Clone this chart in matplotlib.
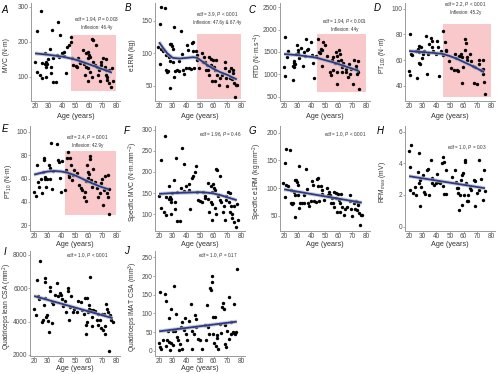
import matplotlib
matplotlib.use("Agg")
import matplotlib.pyplot as plt
import numpy as np

W, H = 500, 374

# ---------------- data ----------------
a_age = [24.3,21.2,36.8,32.5,38.5,20,21.2,23.6,25.3,28.4,25.3,27.2,27.2,28,28.9,28.4,30.8,32,31.5,29.6,33.2,35.6,33.2,36.3,38,39.9,41.6,42.8,41.6,44,45.2,46.4,46.9,47.6,48.3,50,51.2,51.9,53.6,53.6,56,56.7,57.9,58.9,58.9,58.9,59.6,60.3,60.8,60.8,62,62.7,62,63.2,64.4,65,65.6,66.8,67.5,68,68.7,69.2,70.4,71.6,72.3,72.8,73.3,74.7,75.2,76.4,77.6,77.2,73.5,72.3,57.7,55.5]
a_val = [286,229,256,234,220,142,114,105,97,100,140,166,135,141,136,128,180,128,111,149,83,83,152,161,155,166,171,111,158,185,190,199,213,152,133,130,128,152,142,138,136,105,166,152,124,86,171,161,157,114,208,204,100,142,133,190,128,105,119,86,142,133,152,128,105,119,91,81,119,69,86,124,100,150,128,175]
a_fit_age = [20,30,40,46,50,55,60,65,70,77]
a_fit_val = [166,162,157,152,148,142,135,128,121,111]

b_age = [21.7,24.1,21,30.8,36,19.5,21.7,21,22.9,25.3,25.3,25.8,26.5,27,27.7,28.9,29.6,30.1,28.2,27.7,30.1,30.8,31.3,33,34.4,34.9,36.8,37.2,38.5,39.7,40.4,40.9,42,43.3,44,45,45,45.7,46.9,47.6,48,49.3,51.2,52.2,52.9,53.6,54.6,55.3,56,56.5,56.9,57.7,58.4,58.9,59.4,60.1,60.8,60.8,61.8,62.5,63.7,64.9,66.1,68,68.5,69,69.7,70.9,72.1,72.8,73.3,74,74.5,75,76.2,77.1,75.7]
b_val = [170.5,168.6,145,140,134,109.5,106,84,104,97,74,72,73,94,114,114,111,106,88,47.5,87,64,73,74,73,88,99,74,68,77,113,105,77,76,116,118,104,77,104,97,89,78,101,87,94,87,74,82,74,94,67,82,91,57,89,79,74,57,89,67,51,62,67,77,87,62,50,73,62,77,60,70,74,55,51.5,51.5,33]
b_fit_age = [20,23,26,30,35,40,45,48,52,56,60,65,70,74,77]
b_fit_val = [117,108,100,93,92,93,94,93,87,81,76,71,67,63,60]

c_age = [21,20,21,22.4,22.9,26.4,26.4,27.1,27.6,27.6,28.1,28.8,29.5,30,30.5,31.2,32.4,33.6,34.3,35.5,35.9,37.1,37.6,39.5,40.7,41.4,41.9,43.1,44.8,45.5,46.2,47.1,47.8,47.8,48.6,50.2,51.4,53.3,54.3,55,55.7,56.2,57.4,58.1,58.6,58.6,59,59.7,60.5,60.9,61.4,62.1,62.8,63.3,65.2,65.7,66.9,67.6,68.1,69.3,70.5,71.6,72.4,72.8,74,74,75.2,73.3]
c_val = [1833,1173,972,1381,1520,868,1194,1298,1263,1159,1229,1451,1645,1541,1472,1368,1590,1194,1506,1402,1784,1541,1576,1715,1423,1263,930,1402,1798,1506,1472,1576,1541,1194,1715,1645,1402,1055,986,1333,1381,1090,1263,1506,1402,798,1055,1298,1541,1451,1333,1173,1055,1263,1125,1055,951,1229,1020,1125,778,1333,1194,1125,1298,1055,673,1000]
c_fit_age = [20,30,40,44,50,55,60,65,70,75]
c_fit_val = [1455,1430,1390,1370,1320,1278,1230,1180,1130,1075]

d_age = [21,20,21,21.7,22.4,25.2,26,26.4,27.1,27.6,27.6,28.3,28.8,29.5,30,30.5,31.2,32.4,33.1,33.6,34.8,36,36.7,37.1,37.6,39.5,40.7,41.4,41.9,43.1,44.8,44.8,46.2,46.7,47.1,48.9,50.9,52.6,53.3,54.3,55,55.7,56.7,57.4,58.1,58.6,59,59.7,61,61.4,61,62.1,62.8,64.5,65.7,66.9,67.6,68.6,70,71.6,72.8,74,74,75.2,75.7,71.6,74]
d_val = [80.3,51.7,48,65,64,66.8,46,68.3,71,66,57.8,56.6,70,61.5,66,65,66.8,78.5,48.8,65,72.5,77.3,74.9,70,66.8,65,74.9,70,47.6,66.8,82.7,63.9,73.7,67.6,66.8,59,54,52.2,65,61.5,52.2,51.7,63.4,63.4,65,42.4,62.7,54.6,76.6,73.2,67.6,62.7,60.3,64.4,59,55.4,42.4,54.2,41.5,60.3,52.2,60.3,48.8,43.2,33.4,56.6,53]
d_fit_age = [20,30,40,45,50,55,60,65,70,75]
d_fit_val = [67,66.2,65.3,64.7,63,61,58.5,56,53.3,50.5]

e_age = [20,21.2,21.9,22.8,23.5,25.2,25.9,26.6,27,27.5,27.8,28.2,28.7,29.4,30.6,31.3,31.8,32.2,32.9,34.1,36.5,37.6,38.3,38.8,40,40.7,42.3,43.5,44.2,44.7,45.4,45.9,46.3,47,47.7,48.7,49.4,51.7,52.9,54.1,55.3,56.4,57.1,58.1,58.1,58.8,59.5,59.5,60.4,61.1,61.1,61.8,62.3,63.5,64.6,65.8,67,68.2,69.4,69.8,70.5,71.2,72.2,73.6,74.5,75.2,75.2,74]
e_val = [48.2,45,72,57,53,60,48,65.6,77.5,75.5,59.4,61.4,53,59.4,71.3,69,60,90.4,51,66.2,89.6,75.5,74,60.6,48.2,74.6,50,67,77.5,82.5,63.4,61.4,77.5,71.3,58.6,63.4,67,65,54.4,51.5,50,44.5,48.7,57.7,40.3,71.3,65.6,60.6,64.2,79.2,76.3,58.6,53,68.5,56.6,51.5,44.5,47.3,55.8,60,37.5,50.1,62.3,47.3,44.5,51,29.6,63.4]
e_fit_age = [20,25,30,35,40,45,50,55,60,65,70,75]
e_fit_val = [63.3,64.8,66,66.4,66,64.8,62.7,60,57.2,54.7,52.5,50.6]

f_age = list(a_age)
f_val = list(a_val)
f_fit_age = [20,30,40,50,55,60,65,70,75,77]
f_fit_val = [148,150,151,152,151,149,145,140,135,133]

g_age = list(b_age)
g_val = list(b_val)
g_fit_age = [20,77]
g_fit_val = [98,74]

h_age = [20,21.7,21,21,22.9,24.1,25.3,26.4,27.1,27.6,28.1,28.1,28.8,30,30.7,31.9,32.9,33.6,34.3,36,36.7,37.1,38.3,39.5,40.2,41.4,42.4,43.8,44.8,45.5,45.5,44.8,46.7,47.1,51.4,53.3,54.3,55,55.7,56.7,57.4,58.1,58.6,59,59.7,60.5,61,61,61.4,62.1,63.3,64.5,65.7,67.6,68.6,68.6,70,71,71.6,72.4,74,75.2,75.7,56.2,63.3]
h_val = [4.8,5.17,3.76,2.31,2.15,2.52,2.0,3.45,4.65,2.73,2.93,1.32,2.52,3.24,2.21,2.07,3.6,3.66,2.0,4.21,2.73,3.04,2.62,2.77,3.3,2.83,2.77,4.0,4.38,4.07,2.07,2.56,3.6,2.07,3.14,3.55,2.83,2.42,2.15,1.07,2.0,2.93,1.38,3.24,3.39,2.0,4.21,4.07,2.73,1.59,1.59,2.42,2.31,2.93,2.89,1.32,2.15,2.31,4.21,2.98,1.65,3.6,2.27,2.42,2.0]
h_fit_age = [20,75.7]
h_fit_val = [3.18,2.42]

i_age = [24.2,20,21.2,21.9,22.8,23.5,25.9,26.6,27,27.8,28.2,28.2,28.9,29.4,29.9,30.6,31.3,31.8,32.9,32.9,34.1,35.3,36.5,37.6,38.8,39.5,40.7,41.2,42.3,43.5,44.7,45.1,45.9,46.3,47,48.2,49.4,51.7,52.4,54.1,55.3,56.4,57.1,58.1,58.1,58.8,58.8,59.5,59.9,60.4,61.1,61.8,62.3,62.8,63.5,64.6,65.8,66.5,67,68.2,68.9,69.8,70.5,71.2,71.7,72.2,72.9,73.6,74.5,75.2,75.9,76.4,77.6]
i_val = [7620,4724,4381,6515,5524,5334,4000,4095,4991,5429,6629,6381,4286,4381,4038,3391,6096,5810,5143,3905,5048,5619,6324,5524,5715,5619,5372,4953,5239,4572,6000,5810,4095,4858,5524,4572,4762,4572,5239,5143,4667,4477,5429,3238,3810,3962,5429,4572,4762,4991,6667,4667,3715,4286,4667,4610,4095,3810,4477,4095,3620,4477,3467,4477,3277,3715,5048,4762,4572,2248,4381,4095,4000]
i_fit_age = [20,77.6]
i_fit_val = [5530,4200]

j_age = [20.5,20,21,21.7,22.9,24,24.8,25.2,25.7,26.4,27.1,27.6,28.1,28.8,28.8,30,30,30.7,31.9,32.4,32.9,33.6,34.3,35.2,36,36.7,37.1,38.3,38.8,39.5,40.7,41.9,43.1,43.8,44.3,45.5,46.2,46.7,47.1,48.6,50.2,51.4,53.3,54.3,55,56.2,56.7,57.4,58.1,58.6,59,59.3,59.7,60.5,60.9,61.4,62.1,62.8,63.3,64.5,65.7,66.1,66.9,67.6,68.1,68.6,69.3,70,70.9,71.6,72.4,72.8,74,74.7,75.2,75.7,76.4,77.1]
j_val = [158,21,10,3.5,30,152,132,12,30,52,24,87,2,113,21,52,15,172,52,98,38,28,2,19,63,3.5,78,56,87,45,28,80,125,52,3.5,45,96,63,85,32,28,3.5,70,28,122,64,45,169,163,183,200,91,45,21,91,12,35,41,3.5,71,47,117,128,113,19,70,10,52,32,145,78,44,50,124,47,45,50,219]
j_fit_age = [20,77]
j_fit_val = [52,78]

x_ticks = [20, 30, 40, 50, 60, 70, 80]

# ---------------- style ----------------
plt.rcParams['font.family'] = ['Liberation Sans', 'DejaVu Sans']
plt.rcParams['mathtext.fontset'] = 'custom'
plt.rcParams['mathtext.rm'] = 'Liberation Sans'
plt.rcParams['mathtext.it'] = 'Liberation Sans:italic'
fig = plt.figure(figsize=(W/100, H/100), dpi=100)
fig.patch.set_facecolor('white')

PINK = '#f8c8cb'
NAVY = '#2b3a8c'
GRAY = '#4d4d4d'

def px_axes(l, t, r, b):
    return fig.add_axes([l/W, 1-b/H, (r-l)/W, (b-t)/H])

R1 = (3, 101, 117)
R2 = (126, 231, 244)
R3 = (251, 356, 369)

panels = [
    dict(lr=(31, 120), row=R1, letter=('A', 5, 10), ylx=7, age=a_age, val=a_val, fa=a_fit_age, fv=a_fit_val,
         ylim=(30, 310), yt=[100, 200, 300], ylab='MVC (N·m)',
         box=(46.4, 60, 220), txt=['edf = 1.94, $\\it{P}$ = 0.003', 'Inflexion: 46.4y'], tx=0.74, ty=(0.83, 0.755)),
    dict(lr=(155, 245), row=R1, letter=('B', 128, 8), ylx=133, age=b_age, val=b_val, fa=b_fit_age, fv=b_fit_val,
         ylim=(27, 177), yt=[50, 100, 150], ylab='e1RM (kg)',
         box=(47.6, 30, 130), txt=['edf = 3.9, $\\it{P}$ < 0.001', 'Inflexion: 47.6y & 67.4y'], tx=0.69, ty=(0.88, 0.80)),
    dict(lr=(280, 370), row=R1, letter=('C', 252, 10), ylx=258, age=c_age, val=c_val, fa=c_fit_age, fv=c_fit_val,
         ylim=(410, 2590), yt=[500, 1000, 1500, 2000, 2500], ylab='RTD (N·m.s$^{-1}$)',
         box=(44, 600, 1890), txt=['edf = 1.94, $\\it{P}$ < 0.001', 'Inflexion: 44y'], tx=0.72, ty=(0.81, 0.73)),
    dict(lr=(405, 495), row=R1, letter=('D', 377, 8), ylx=383, age=d_age, val=d_val, fa=d_fit_age, fv=d_fit_val,
         ylim=(28, 104.5), yt=[40, 60, 80, 100], ylab='PT$_{100}$ (N·m)',
         box=(45.2, 31, 88.3), txt=['edf = 2.2, $\\it{P}$ < 0.001', 'Inflexion: 45.2y'], tx=0.67, ty=(0.985, 0.90)),
    dict(lr=(30, 120), row=R2, letter=('E', 5, 129), ylx=8, age=e_age, val=e_val, fa=e_fit_age, fv=e_fit_val,
         ylim=(15, 105), yt=[20, 40, 60, 80, 100], ylab='PT$_{10}$ (N·m)',
         box=(42.9, 29, 84), txt=['edf = 2.4, $\\it{P}$ = 0.001', 'Inflexion: 42.9y'], tx=0.64, ty=(0.89, 0.81)),
    dict(lr=(155, 245), row=R2, letter=('F', 127, 131), ylx=133, age=f_age, val=f_val, fa=f_fit_age, fv=f_fit_val,
         ylim=(60, 309), yt=[100, 150, 200, 250, 300], ylab='Specific MVC (N·m.mm$^{-2}$)',
         box=None, txt=['edf = 1.96, $\\it{P}$ = 0.46'], tx=0.72, ty=(0.92,)),
    dict(lr=(280, 370), row=R2, letter=('G', 252, 131), ylx=257, age=g_age, val=g_val, fa=g_fit_age, fv=g_fit_val,
         ylim=(23, 212), yt=[50, 100, 150, 200], ylab='Specific e1RM (kg mm$^{-2}$)',
         box=None, txt=['edf = 1.0, $\\it{P}$ < 0.001'], tx=0.72, ty=(0.92,)),
    dict(lr=(405, 495), row=R2, letter=('H', 380, 131), ylx=382, age=h_age, val=h_val, fa=h_fit_age, fv=h_fit_val,
         ylim=(-0.28, 6.35), yt=[0, 2, 4, 6], ylab='RFM$_{max}$ (mV)',
         box=None, txt=['edf = 1.0, $\\it{P}$ = 0.03'], tx=0.69, ty=(0.79,)),
    dict(lr=(30, 120), row=R3, letter=('I', 5, 252), ylx=7, age=i_age, val=i_val, fa=i_fit_age, fv=i_fit_val,
         ylim=(1930, 8230), yt=[2000, 4000, 6000, 8000], ylab='Quadriceps lean CSA (mm$^2$)',
         box=None, txt=['edf = 1.0, $\\it{P}$ < 0.001'], tx=0.64, ty=(0.95,)),
    dict(lr=(155, 245), row=R3, letter=('J', 126, 251), ylx=133, age=j_age, val=j_val, fa=j_fit_age, fv=j_fit_val,
         ylim=(-14, 267), yt=[0, 50, 100, 150, 200, 250], ylab='Quadriceps IMAT CSA (mm$^3$)',
         box=None, txt=['edf = 1.0, $\\it{P}$ = 0.17'], tx=0.70, ty=(0.95,)),
]

for p in panels:
    l, r = p['lr']
    t, b, xly = p['row']
    ax = px_axes(l, t, r, b)
    ax.set_xlim(17, 83)
    ax.set_ylim(*p['ylim'])
    if p['box'] is not None:
        x0, y0, y1 = p['box']
        ax.fill_between([x0, 80], [y0, y0], [y1, y1], color=PINK, lw=0, zorder=1)
    ax.scatter(p['age'], p['val'], s=6, color='black', lw=0, zorder=3)
    ax.plot(p['fa'], p['fv'], color='#b8b8b8', lw=2.8, alpha=0.7, zorder=4, solid_capstyle='butt')
    ax.plot(p['fa'], p['fv'], color=NAVY, lw=1.3, zorder=5, solid_capstyle='butt')
    ax.set_xticks(x_ticks)
    ax.set_yticks(p['yt'])
    ax.tick_params(labelsize=4.7, colors='#8a8a8a', labelcolor=GRAY, length=1.2, width=0.5, pad=0.5)
    for s in ['top', 'right']:
        ax.spines[s].set_visible(False)
    for s in ['left', 'bottom']:
        ax.spines[s].set_color('#9a9a9a')
        ax.spines[s].set_linewidth(0.7)
    ax.set_xlabel('Age (years)', fontsize=5.2, color='#333333')
    ax.xaxis.label.set_va('center')
    ax.xaxis.set_label_coords(0.5, -(xly - b) / (b - t))
    ax.set_ylabel(p['ylab'], fontsize=4.9, color='#333333')
    ax.yaxis.label.set_va('center')
    ax.yaxis.set_label_coords((p['ylx'] - l) / (r - l), 0.47)
    for txt, yy in zip(p['txt'], p['ty']):
        ax.text(p['tx'], yy, txt, transform=ax.transAxes, fontsize=3.3, color='#333333',
                ha='center', va='center', zorder=6)
    lt, lx, lyy = p['letter']
    fig.text(lx / W, 1 - lyy / H, lt, fontsize=7, style='italic',
             ha='center', va='center', color='black')

fig.savefig('out.png', dpi=100, facecolor='white')
